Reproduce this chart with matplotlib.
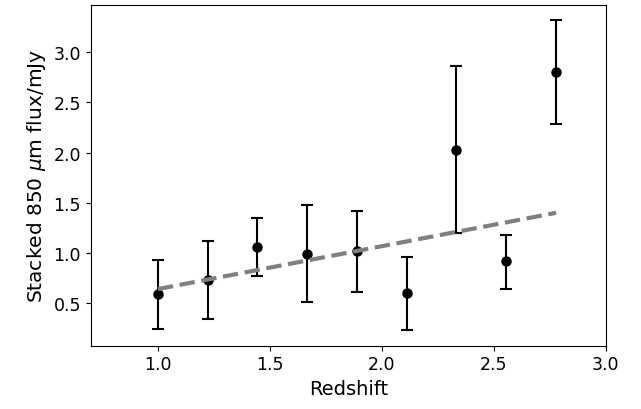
import numpy as np
import matplotlib
matplotlib.use("Agg")
import matplotlib.pyplot as plt

# stacked flux per redshift bin
redshift = [1.0, 1.222, 1.444, 1.667, 1.889, 2.111, 2.333, 2.556, 2.778]
flux = [0.59, 0.73, 1.06, 0.99, 1.02, 0.60, 2.03, 0.92, 2.80]
err_hi = [0.93, 1.12, 1.35, 1.48, 1.42, 0.96, 2.86, 1.18, 3.32]
err_lo = [0.24, 0.34, 0.77, 0.51, 0.61, 0.23, 1.20, 0.64, 2.29]

# fitted trend
fit_x = [1.0, 2.778]
fit_y = [0.64, 1.40]

plt.rcParams["font.size"] = 12.5

fig = plt.figure(figsize=(6.41, 4.10), dpi=100)
ax = fig.add_axes([0.1415, 0.1544, 0.8035, 0.8317])

yerr = [np.array(flux) - np.array(err_lo), np.array(err_hi) - np.array(flux)]
ax.errorbar(redshift, flux, yerr=yerr, fmt="o", color="black", ms=6.5,
            capsize=4.5, elinewidth=1.5, capthick=1.5, zorder=2)
ax.plot(fit_x, fit_y, "--", color="grey", lw=3, zorder=3)

ax.set_xlim(0.7, 3.0)
ax.set_xticks([1.0, 1.5, 2.0, 2.5, 3.0])
ax.set_yticks([0.5, 1.0, 1.5, 2.0, 2.5, 3.0])
ax.set_xlabel("Redshift", fontsize=14)
ax.set_ylabel(r"Stacked 850 $\mu$m flux/mJy", fontsize=14.5)

fig.savefig("out.png", dpi=100)
